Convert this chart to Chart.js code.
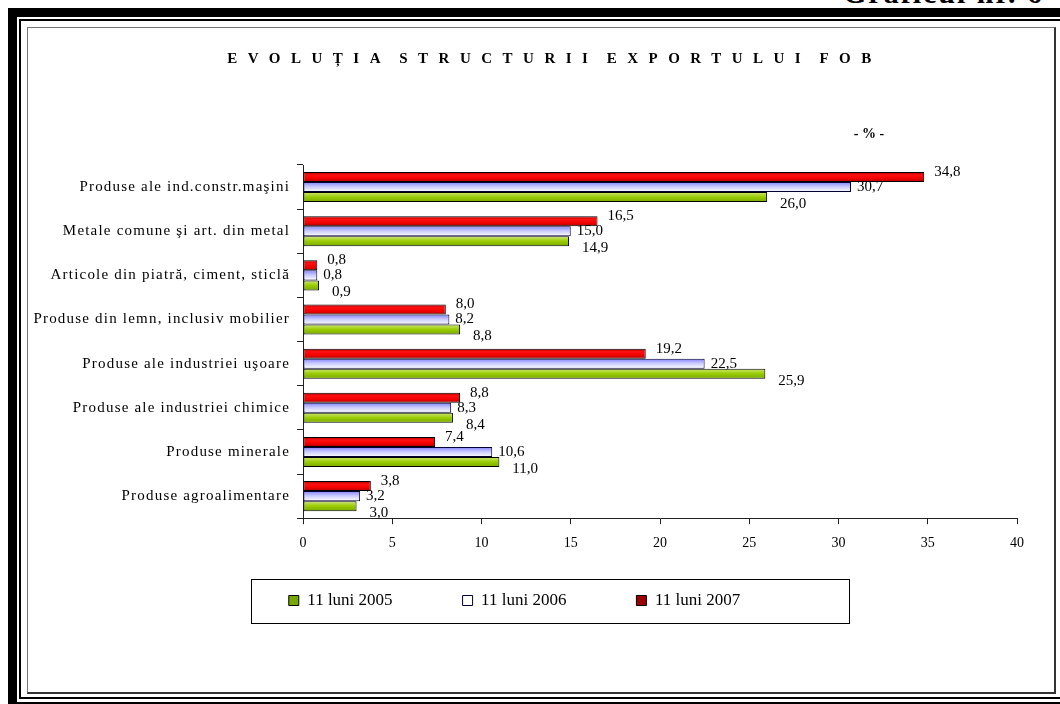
<!DOCTYPE html>
<html><head><meta charset="utf-8">
<script src="https://cdn.jsdelivr.net/npm/chart.js@4.4.1/dist/chart.umd.min.js"></script>
<style>
html,body{margin:0;padding:0;background:#fff;width:1060px;height:704px;overflow:hidden;position:relative;font-family:"Liberation Serif",serif;}
#f1{position:absolute;left:8px;top:8px;width:1100px;height:703px;border-left:9px solid #000;border-top:9px solid #000;border-bottom:9px solid #000;box-sizing:border-box;}
#f2{position:absolute;left:19px;top:19px;width:1100px;height:680px;border:2px solid #000;box-sizing:border-box;}
#f3{position:absolute;left:27px;top:27px;width:1029px;height:667px;border-left:1px solid #777;border-top:1px solid #777;border-right:2px solid #333;border-bottom:2px solid #333;box-sizing:border-box;}
#gr{position:absolute;left:843px;top:-22px;font:bold 30px "Liberation Serif",serif;letter-spacing:2px;white-space:nowrap;line-height:30px;color:#000}
#c{position:absolute;left:0;top:0}
</style></head>
<body>
<div id="f1"></div><div id="f2"></div><div id="f3"></div>
<div id="gr">Graficul nr. 6</div>
<canvas id="c" width="1060" height="704"></canvas>
<script>
// ---- data ----
const categories = [
  'Produse ale ind.constr.maşini',
  'Metale comune şi art. din metal',
  'Articole din piatră, ciment, sticlă',
  'Produse din lemn, inclusiv mobilier',
  'Produse ale industriei uşoare',
  'Produse ale industriei chimice',
  'Produse minerale',
  'Produse agroalimentare'
];
const values2005 = [26.0, 14.9, 0.9, 8.8, 25.9, 8.4, 11.0, 3.0];
const values2006 = [30.7, 15.0, 0.8, 8.2, 22.5, 8.3, 10.6, 3.2];
const values2007 = [34.8, 16.5, 0.8, 8.0, 19.2, 8.8, 7.4, 3.8];
const seriesNames = ['11 luni 2005', '11 luni 2006', '11 luni 2007'];
const xTickValues = [0, 5, 10, 15, 20, 25, 30, 35, 40];
const titleText = 'EVOLUȚIA STRUCTURII EXPORTULUI FOB';
const unitText = '- % -';

// ---- styling ----
const CAT_PCT = 0.68;
const SERIF = '"Liberation Serif", "Times New Roman", serif';

function makeFill(stops, fallback) {
  return (ctx) => {
    const chart = ctx.chart;
    const ys = chart.scales && chart.scales.y;
    if (ctx.type !== 'data' || !ys || !chart.chartArea || !ys.height) return fallback;
    const n = chart.data.datasets.length;
    const band = ys.height / chart.data.labels.length;
    const bw = band * CAT_PCT / n;
    const c = ys.getPixelForValue(ctx.dataIndex);
    const top = c - bw * n / 2 + ctx.datasetIndex * bw;
    const g = chart.ctx.createLinearGradient(0, top, 0, top + bw);
    stops.forEach(s => g.addColorStop(s[0], s[1]));
    return g;
  };
}
const redFill = makeFill([[0,'#a80000'],[0.3,'#ff1010'],[0.7,'#ee0000'],[1,'#9a0000']], '#e00000');
const blueFill = makeFill([[0,'#8080ff'],[0.45,'#c8c8ff'],[1,'#ffffff']], '#c4c4ff');
const greenFill = makeFill([[0,'#d0e878'],[0.5,'#99cc00'],[1,'#78a800']], '#99cc00');

function fmt(v) { return v.toFixed(1).replace('.', ','); }

function wrapMethod(obj, name, cfg) {
  if (!obj || obj['_w_' + name]) return;
  const orig = obj[name];
  obj[name] = function (...args) {
    const c = this.ctx;
    c.save();
    try {
      if (cfg.letterSpacing) c.letterSpacing = cfg.letterSpacing;
      if (cfg.wordSpacing) c.wordSpacing = cfg.wordSpacing;
    } catch (e) {}
    if (cfg.dx || cfg.dy) c.translate(cfg.dx || 0, cfg.dy || 0);
    const r = orig.apply(this, args);
    c.restore();
    return r;
  };
  obj['_w_' + name] = true;
}

const LEGEND_SHIFT = { dx: -4, dy: -41 };

const spacingPlugin = {
  id: 'spacing',
  beforeDraw(chart) {
    wrapMethod(chart.scales.y, 'drawLabels', { letterSpacing: '1.2px' });
    wrapMethod(chart.titleBlock, 'draw', { letterSpacing: '10.5px', wordSpacing: '-6px', dx: 36 });
    wrapMethod(chart.legend, 'draw', LEGEND_SHIFT);
  }
};

const valueLabels = {
  id: 'valueLabels',
  afterDatasetsDraw(chart, args, opts) {
    const ctx = chart.ctx;
    ctx.save();
    ctx.font = '15px ' + SERIF;
    ctx.fillStyle = '#000';
    ctx.textAlign = 'left';
    ctx.textBaseline = 'middle';
    chart.data.datasets.forEach((ds, di) => {
      const meta = chart.getDatasetMeta(di);
      const off = opts.offsets[di];
      meta.data.forEach((el, i) => {
        ctx.fillText(fmt(ds.data[i]), el.x + off[0], el.y + off[1]);
      });
    });
    ctx.restore();
  }
};

const extras = {
  id: 'extras',
  afterDraw(chart) {
    const ctx = chart.ctx;
    ctx.save();
    // legend frame
    const hb = chart.legend.legendHitBoxes;
    if (hb && hb.length) {
      const cy = hb[0].top + hb[0].height / 2 + LEGEND_SHIFT.dy;
      const lx = hb[0].left + LEGEND_SHIFT.dx;
      ctx.strokeStyle = '#000';
      ctx.lineWidth = 1;
      ctx.strokeRect(Math.round(lx - 38) + 0.5, Math.round(cy - 22) + 0.5, 598, 44);
    }
    // unit label
    ctx.font = 'bold 14px ' + SERIF;
    ctx.fillStyle = '#000';
    ctx.textAlign = 'center';
    ctx.textBaseline = 'middle';
    ctx.fillText(unitText, chart.chartArea.right - 148, chart.chartArea.top - 31);
    ctx.restore();
  }
};

new Chart(document.getElementById('c'), {
  type: 'bar',
  data: {
    labels: categories,
    datasets: [
      { label: seriesNames[2], data: values2007, backgroundColor: redFill, borderColor: '#000', borderWidth: 1, borderSkipped: false },
      { label: seriesNames[1], data: values2006, backgroundColor: blueFill, borderColor: '#000033', borderWidth: 1, borderSkipped: false },
      { label: seriesNames[0], data: values2005, backgroundColor: greenFill, borderColor: '#000', borderWidth: 1, borderSkipped: false }
    ]
  },
  options: {
    indexAxis: 'y',
    responsive: false,
    animation: false,
    devicePixelRatio: 1,
    categoryPercentage: CAT_PCT,
    barPercentage: 1,
    layout: { padding: { top: 50, left: 20, right: 43, bottom: 44 } },
    scales: {
      x: {
        type: 'linear',
        min: xTickValues[0],
        max: xTickValues[xTickValues.length - 1],
        afterBuildTicks: (s) => { s.ticks = xTickValues.map(v => ({ value: v })); },
        grid: { drawOnChartArea: false, drawTicks: true, tickLength: 6, color: '#222' },
        border: { color: '#222', width: 1 },
        ticks: { color: '#000', padding: 11, font: { family: SERIF, size: 14 }, maxRotation: 0 }
      },
      y: {
        type: 'category',
        afterFit: (s) => { s.width = 283; },
        grid: { offset: true, drawOnChartArea: false, drawTicks: true, tickLength: 6, color: '#222' },
        border: { color: '#222', width: 1 },
        ticks: { color: '#000', padding: 7, font: { family: SERIF, size: 15 }, autoSkip: false }
      }
    },
    plugins: {
      title: {
        display: true,
        text: titleText,
        color: '#000',
        font: { family: SERIF, size: 15, weight: 'bold', lineHeight: 1.2 },
        padding: { top: 0, bottom: 97 }
      },
      legend: {
        position: 'bottom',
        labels: {
          sort: (a, b) => b.datasetIndex - a.datasetIndex,
          color: '#000',
          font: { family: SERIF, size: 17 },
          boxWidth: 10,
          boxHeight: 10,
          padding: 70
        }
      },
      tooltip: { enabled: false },
      valueLabels: { offsets: [[10, -5], [6, 0], [13, 7]] }
    }
  },
  plugins: [spacingPlugin, valueLabels, extras]
});
</script>
</body></html>
